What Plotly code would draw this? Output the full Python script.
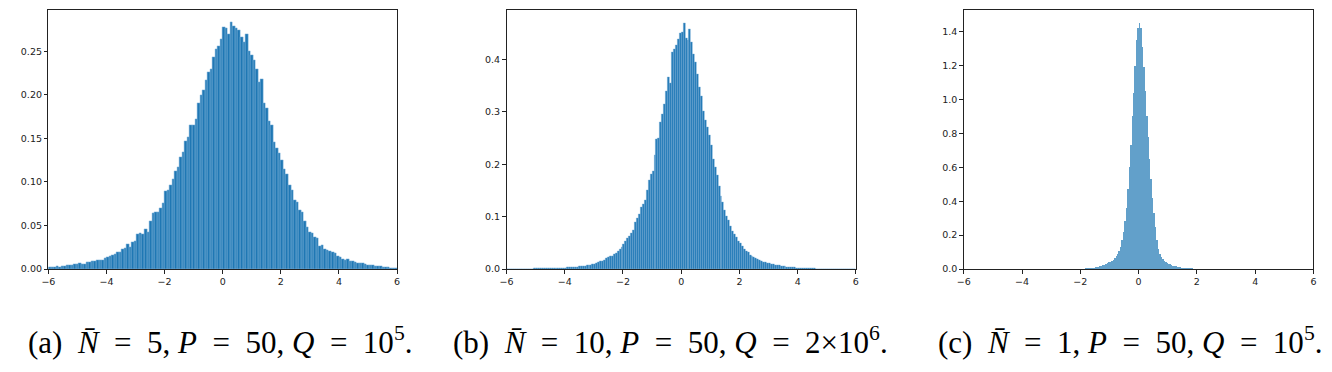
import numpy as np
import plotly.graph_objects as go

# ---------------- data ----------------
# Panel (a): histogram, bins of width 2/23 from -6 to 6
a_edge_start, a_bin_width = -6.0, 2 / 23
a_heights = [
    0.0025, 0.002, 0.0025, 0.003, 0.0025, 0.0028, 0.003, 0.004, 0.004, 0.0048,
    0.0053, 0.0053, 0.0065, 0.006, 0.0055, 0.0075, 0.0083, 0.0087, 0.0095, 0.0098,
    0.0100, 0.0104, 0.0125, 0.0132, 0.015, 0.016, 0.0174, 0.019, 0.0193, 0.023,
    0.0235, 0.029, 0.025, 0.031,
    0.032, 0.040, 0.041, 0.040, 0.046, 0.042, 0.055, 0.0647, 0.065, 0.065,
    0.070, 0.0757, 0.089, 0.091, 0.0965, 0.103, 0.1127, 0.1165, 0.128, 0.1346,
    0.1468, 0.1517, 0.165, 0.165, 0.172, 0.191, 0.1997, 0.2053, 0.2167, 0.226,
    0.230, 0.243, 0.2526, 0.2557, 0.264,
    0.278, 0.276, 0.27, 0.283, 0.279, 0.276, 0.274, 0.266, 0.260, 0.270,
    0.2507, 0.2451, 0.2394, 0.2299, 0.2148, 0.2175, 0.1903, 0.1846, 0.1695, 0.1657,
    0.1457, 0.1393, 0.1333, 0.125, 0.1146, 0.109, 0.0958, 0.0902, 0.0787, 0.0768,
    0.0674, 0.0655, 0.0549, 0.0484,
    0.0428, 0.0409, 0.0371, 0.0352, 0.0265, 0.0276, 0.0227, 0.0212, 0.0208, 0.0193,
    0.0182, 0.0144, 0.0136, 0.0118, 0.0102, 0.0108,
    0.0095, 0.0088, 0.0082, 0.0072, 0.0068, 0.0062, 0.0058, 0.005, 0.0047, 0.004,
    0.0036, 0.003, 0.0032, 0.0024, 0.0022, 0.0018, 0.0014, 0.0012, 0.0009,
]

# Panel (b): histogram, bins of width 1/15 from -6 to 6
b_edge_start, b_bin_width = -6.0, 1 / 15
b_heights = [
    0.0002, 0.0003, 0.0002, 0.0003, 0.0004, 0.0003, 0.0004, 0.0005, 0.0004, 0.0005, 0.0006, 0.0005, 0.0007, 0.0006, 0.0008,
    0.0008, 0.0009, 0.001, 0.0009, 0.0011, 0.0012, 0.0013, 0.0012, 0.0015, 0.0016, 0.0018, 0.0017, 0.002, 0.0022, 0.0025,
    0.0026, 0.0028, 0.0031, 0.0034, 0.0037, 0.004, 0.0045, 0.005, 0.0052, 0.0058, 0.0064, 0.0068, 0.0075, 0.0082, 0.009,
    0.0100, 0.011, 0.0122, 0.0142, 0.0155, 0.0172, 0.0205, 0.0226, 0.025, 0.0245, 0.029, 0.031, 0.0345, 0.0377, 0.0427,
    0.047, 0.054, 0.058, 0.063, 0.068, 0.075, 0.09, 0.097, 0.105, 0.118, 0.124, 0.131, 0.150, 0.170, 0.181,
    0.187, 0.218, 0.247, 0.25, 0.281, 0.296, 0.315, 0.340, 0.366, 0.355, 0.413, 0.42, 0.428, 0.438, 0.451,
    0.452, 0.470, 0.441, 0.437, 0.457, 0.432, 0.41, 0.395, 0.372, 0.348, 0.33, 0.301, 0.285, 0.27, 0.256,
    0.237, 0.21, 0.195, 0.18, 0.159, 0.140, 0.127, 0.112, 0.1, 0.093, 0.082, 0.072, 0.066, 0.06, 0.054,
    0.049, 0.044, 0.0377, 0.034, 0.0314, 0.027, 0.025, 0.022, 0.0207, 0.018, 0.0165, 0.015, 0.0135, 0.0126, 0.0112,
    0.0105, 0.0095, 0.0088, 0.008, 0.0072, 0.0065, 0.006, 0.0052, 0.0048, 0.0042, 0.0038, 0.0034, 0.003, 0.0027, 0.0024,
    0.0021, 0.0019, 0.0017, 0.0015, 0.0013, 0.0012, 0.001, 0.0009, 0.0008, 0.0007, 0.0006, 0.0006, 0.0005, 0.0004, 0.0004,
    0.0003, 0.0003, 0.0003, 0.0002, 0.0002, 0.0002, 0.0002, 0.0001, 0.0001, 0.0001, 0.0001, 0.0001, 0.0001, 0.0001, 0.0001,
]

# Panel (c): histogram, bins of width 0.05 from -2 to 2
c_edge_start, c_bin_width = -2.0, 0.05
c_heights = [
    0.0012, 0.0017, 0.0022, 0.0028, 0.0034, 0.004, 0.0048, 0.0055, 0.0065, 0.0075,
    0.009, 0.01, 0.012, 0.015, 0.017, 0.02, 0.024, 0.028, 0.032, 0.038,
    0.043, 0.048, 0.054, 0.063, 0.076, 0.088, 0.105, 0.13, 0.17, 0.215,
    0.28, 0.36, 0.47, 0.60, 0.73, 0.90, 1.04, 1.2, 1.35, 1.42,
    1.45, 1.42, 1.31, 1.19, 1.05, 0.90, 0.78, 0.65, 0.53, 0.42,
    0.33, 0.25, 0.17, 0.115, 0.088, 0.07, 0.057, 0.048, 0.041, 0.035,
    0.03, 0.026, 0.022, 0.019, 0.017, 0.015, 0.013, 0.011, 0.01, 0.008,
    0.007, 0.006, 0.005, 0.0045, 0.004, 0.003, 0.0025, 0.002, 0.0015, 0.001,
]

x_ticks = [-6, -4, -2, 0, 2, 4, 6]
a_yticks = [0.0, 0.05, 0.10, 0.15, 0.20, 0.25]
b_yticks = [0.0, 0.1, 0.2, 0.3, 0.4]
c_yticks = [0.0, 0.2, 0.4, 0.6, 0.8, 1.0, 1.2, 1.4]
y_ranges = [0.2972, 0.494, 1.528]

EQ = "\u2002=\u2002"
SP = "\u2002"
captions = [
    f"(a){SP}<i>N̄</i>{EQ}5, <i>P</i>{EQ}50, <i>Q</i>{EQ}10<sup>5</sup>.",
    f"(b){SP}<i>N̄</i>{EQ}10, <i>P</i>{EQ}50, <i>Q</i>{EQ}2×10<sup>6</sup>.",
    f"(c){SP}<i>N̄</i>{EQ}1, <i>P</i>{EQ}50, <i>Q</i>{EQ}10<sup>5</sup>.",
]

# ---------------- figure ----------------
W, H = 1332, 372


def centers(start, width, n):
    return start + (np.arange(n) + 0.5) * width


def fmt(v, dec):
    s = f"{abs(v):.{dec}f}"
    return ("−" + s) if v < 0 else s


fig = go.Figure()

panels = [
    (a_edge_start, a_bin_width, a_heights, "#1f77b4", dict(width=0.5, color="#7fb3da")),
    (b_edge_start, b_bin_width, b_heights, "#1f77b4", dict(width=0.4, color="#7fb3da")),
    (c_edge_start, c_bin_width, c_heights, "rgba(31,119,180,0.7)", dict(width=0)),
]
x_px = [(41.7, 393.0), (503.3, 855.3), (964.0, 1316.3)]
y_px = (10.3, 272.7)
ytick_sets = [(a_yticks, 2), (b_yticks, 1), (c_yticks, 1)]

for i, (st, bw, hs, col, line) in enumerate(panels):
    xa = "x" if i == 0 else f"x{i+1}"
    ya = "y" if i == 0 else f"y{i+1}"
    fig.add_trace(go.Bar(
        x=centers(st, bw, len(hs)), y=hs, width=bw,
        marker=dict(color=col, line=line),
        xaxis=xa, yaxis=ya, showlegend=False,
    ))
    ax_common = dict(
        showline=True, linecolor="#222", linewidth=1, mirror=True,
        ticks="outside", ticklen=3.5, tickwidth=0.8, tickcolor="#222",
        showgrid=False, zeroline=False,
        tickfont=dict(family="DejaVu Sans", size=9.5, color="#222"),
    )
    xkey = "xaxis" if i == 0 else f"xaxis{i+1}"
    ykey = "yaxis" if i == 0 else f"yaxis{i+1}"
    yt, dec = ytick_sets[i]
    fig.update_layout(**{
        xkey: dict(domain=[x_px[i][0] / W, x_px[i][1] / W], range=[-6, 6],
                   anchor=ya, tickvals=x_ticks,
                   ticktext=[fmt(v, 0) for v in x_ticks], **ax_common),
        ykey: dict(domain=[(H - y_px[1]) / H, (H - y_px[0]) / H],
                   range=[0, y_ranges[i]], anchor=xa, tickvals=yt,
                   ticktext=[fmt(v, dec) for v in yt], **ax_common),
    })

cap_x = [214.5, 668.5, 1131.5]
for i, txt in enumerate(captions):
    fig.add_annotation(
        text=txt, x=cap_x[i] / W, y=(H - 345) / H, xref="paper", yref="paper",
        showarrow=False, xanchor="center", yanchor="middle",
        font=dict(family="Liberation Serif", size=31, color="black"),
    )

fig.update_layout(
    width=W, height=H, margin=dict(l=0, r=0, t=0, b=0),
    paper_bgcolor="white", plot_bgcolor="white",
    bargap=0, barmode="overlay",
)

fig.write_html("out.html")
